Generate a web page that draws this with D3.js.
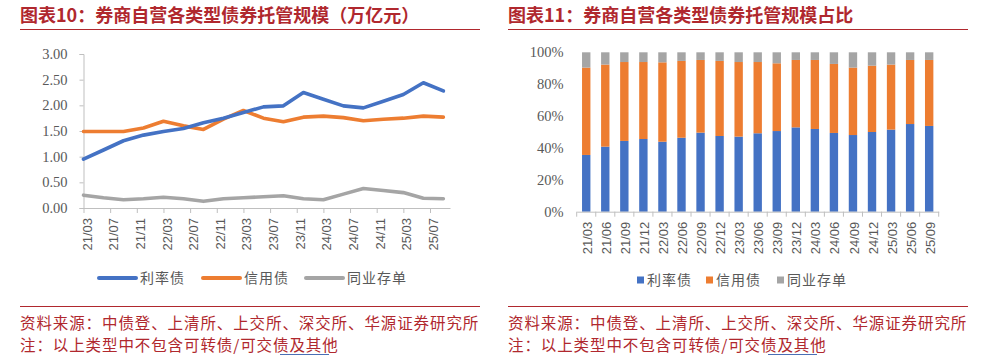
<!DOCTYPE html>
<html><head><meta charset="utf-8">
<script src="https://cdn.jsdelivr.net/npm/d3@7"></script>
<style>
html,body{margin:0;padding:0;background:#fff;}
svg{display:block;}
</style></head>
<body>
<svg id="c" width="991" height="358"></svg>
<script>
// ---------- DATA ----------
const lineDates = ["21/03","21/06","21/09","21/12","22/03","22/06","22/09","22/12","23/03","23/06","23/09","23/12","24/03","24/06","24/09","24/12","25/03","25/06","25/09"];
const rateBond   = [0.95,1.13,1.31,1.42,1.49,1.55,1.66,1.75,1.86,1.97,1.99,2.25,2.12,1.99,1.95,2.08,2.21,2.44,2.28];
const creditBond = [1.49,1.49,1.49,1.56,1.69,1.60,1.53,1.73,1.90,1.75,1.68,1.77,1.79,1.76,1.70,1.73,1.75,1.79,1.77];
const ncdBond    = [0.25,0.20,0.16,0.18,0.21,0.18,0.13,0.18,0.20,0.22,0.24,0.18,0.16,0.27,0.38,0.34,0.30,0.19,0.18];
const lineTickLabels = ["21/03","21/07","21/11","22/03","22/07","22/11","23/03","23/07","23/11","24/03","24/07","24/11","25/03","25/07"];
const lineYTicks = [0,0.5,1,1.5,2,2.5,3];

const barCats = lineDates;
const rateShare   = [0.356,0.408,0.444,0.456,0.439,0.464,0.496,0.475,0.471,0.492,0.506,0.529,0.519,0.494,0.481,0.500,0.515,0.550,0.538];
const creditShare = [0.548,0.515,0.495,0.483,0.498,0.482,0.456,0.471,0.468,0.447,0.425,0.423,0.433,0.433,0.423,0.416,0.408,0.402,0.414];
const barYTicks = [0,0.2,0.4,0.6,0.8,1.0];

const seriesNames = ["利率债","信用债","同业存单"];
const colors = ["#4472C4","#ED7D31","#A5A5A5"];

const titleL = "图表10：券商自营各类型债券托管规模（万亿元）";
const titleR = "图表11：券商自营各类型债券托管规模占比";
const src = "资料来源：中债登、上清所、上交所、深交所、华源证券研究所";
const note = "注：以上类型中不包含可转债/可交债及其他";

// ---------- HELPERS ----------
const svg = d3.select("#c");
const red = "#B0282E";
const axisCol = "#BFBFBF";
const txtCol = "#595959";
const cjk = "'Noto Sans CJK SC','Noto Sans',sans-serif";
const serif = "'Liberation Serif','DejaVu Serif',serif";
const monthIdx = s => { const [y,m] = s.split("/").map(Number); return (y-21)*12 + (m-3); };

function frame(x0, x1, title){
  svg.append("text").attr("x", x0).attr("y", 21.5).text(title)
    .attr("font-family", cjk).attr("font-weight", "bold").attr("font-size", 18).attr("fill", red);
  svg.append("line").attr("x1", x0).attr("x2", x1).attr("y1", 29.5).attr("y2", 29.5).attr("stroke", red).attr("stroke-width", 1.2);
  svg.append("line").attr("x1", x0).attr("x2", x1).attr("y1", 306.5).attr("y2", 306.5).attr("stroke", red).attr("stroke-width", 1.2);
  svg.append("text").attr("x", x0).attr("y", 329).text(src)
    .attr("font-family", cjk).attr("font-size", 15.5).attr("letter-spacing", "0.9px").attr("fill", red);
  const t2 = svg.append("text").attr("x", x0).attr("y", 351).text(note)
    .attr("font-family", cjk).attr("font-size", 15.5).attr("letter-spacing", "0.9px").attr("fill", red);
  // blue proofing underline under "债及其"
  svg.append("line").attr("x1", x0 + 260).attr("x2", x0 + 309).attr("y1", 354.5).attr("y2", 354.5)
    .attr("stroke", "#4A6FB5").attr("stroke-width", 1);
}

// ---------- LEFT: LINE CHART ----------
frame(20, 480, titleL);
{
  const x = d3.scaleLinear().domain([0, 55]).range([83.5, 450]);
  const y = d3.scaleLinear().domain([0, 3]).range([208, 54]);
  const g = svg.append("g");

  const yAx = g.append("g").attr("transform", "translate(83.5,0)")
    .call(d3.axisLeft(y).tickValues(lineYTicks).tickFormat(d3.format(".2f")).tickSize(4).tickPadding(12));
  yAx.select(".domain").attr("stroke", axisCol);
  yAx.selectAll(".tick line").attr("stroke", axisCol);
  yAx.selectAll("text").attr("font-family", serif).attr("font-size", 14.5).attr("fill", txtCol);

  const xAx = g.append("g").attr("transform", "translate(0,208)")
    .call(d3.axisBottom(x).tickValues(lineTickLabels.map(monthIdx))
      .tickFormat(i => lineTickLabels.find(s => monthIdx(s) === i)).tickSize(5).tickSizeOuter(0));
  xAx.select(".domain").attr("stroke", axisCol);
  xAx.selectAll(".tick line").attr("stroke", axisCol);
  xAx.selectAll("text").attr("font-family", "'Liberation Sans',sans-serif").attr("font-size", 13).attr("fill", txtCol)
    .attr("transform", "rotate(-90)").attr("text-anchor", "end").attr("x", -10).attr("y", 0).attr("dy", "0.35em").attr("dx", 0)
    .attr("transform", "translate(3,0) rotate(-90)");

  const series = [rateBond, creditBond, ncdBond];
  const line = d3.line().x((d, i) => x(monthIdx(lineDates[i]))).y(d => y(d));
  [2, 1, 0].forEach(k => {
    g.append("path").datum(series[k]).attr("d", line).attr("fill", "none")
      .attr("stroke", colors[k]).attr("stroke-width", 3.6).attr("stroke-linejoin", "round").attr("stroke-linecap", "round");
  });

  const lx = [99, 203, 306];
  seriesNames.forEach((n, k) => {
    svg.append("line").attr("x1", lx[k]).attr("x2", lx[k] + 37).attr("y1", 278).attr("y2", 278)
      .attr("stroke", colors[k]).attr("stroke-width", 4).attr("stroke-linecap", "round");
    svg.append("text").attr("x", lx[k] + 41).attr("y", 283).text(n)
      .attr("font-family", cjk).attr("font-size", 14).attr("fill", txtCol).attr("letter-spacing", "1px");
  });
}

// ---------- RIGHT: STACKED BAR ----------
frame(508, 968, titleR);
{
  const x = d3.scaleBand().domain(barCats).range([576.7, 938.7]).paddingInner(0.56).paddingOuter(0.28);
  const y = d3.scaleLinear().domain([0, 1]).range([211.7, 52.3]);
  const g = svg.append("g");

  const yAx = g.append("g").attr("transform", "translate(576.7,0)")
    .call(d3.axisLeft(y).tickValues(barYTicks).tickFormat(d3.format(".0%")).tickSize(0).tickPadding(13));
  yAx.select(".domain").remove();
  yAx.selectAll("text").attr("font-family", serif).attr("font-size", 14.5).attr("fill", txtCol);

  const rows = barCats.map((c, i) => ({ cat: c, a: rateShare[i], b: creditShare[i], c2: 1 - rateShare[i] - creditShare[i] }));
  const stack = d3.stack().keys(["a", "b", "c2"])(rows);
  stack.forEach((layer, k) => {
    g.selectAll(null).data(layer).enter().append("rect")
      .attr("x", d => x(d.data.cat)).attr("width", x.bandwidth())
      .attr("y", d => y(d[1])).attr("height", d => y(d[0]) - y(d[1]))
      .attr("fill", colors[k]);
  });

  const xAx = g.append("g").attr("transform", "translate(0,211.7)")
    .call(d3.axisBottom(x).tickSize(0).tickSizeOuter(0));
  xAx.select(".domain").attr("stroke", axisCol);
  // category boundary ticks
  const step = x.step();
  d3.range(barCats.length + 1).forEach(i => {
    g.append("line").attr("x1", 576.7 + i * step).attr("x2", 576.7 + i * step)
      .attr("y1", 211.7).attr("y2", 216.7).attr("stroke", axisCol);
  });
  xAx.selectAll("text").attr("font-family", "'Liberation Sans',sans-serif").attr("font-size", 13).attr("fill", txtCol)
    .attr("text-anchor", "end").attr("x", -10).attr("y", 0).attr("dy", "0.35em")
    .attr("transform", "translate(1,0) rotate(-90)");

  const lx = [637, 706, 777];
  seriesNames.forEach((n, k) => {
    svg.append("rect").attr("x", lx[k]).attr("y", 276.5).attr("width", 7).attr("height", 7).attr("fill", colors[k]);
    svg.append("text").attr("x", lx[k] + 10).attr("y", 285).text(n)
      .attr("font-family", cjk).attr("font-size", 14).attr("fill", txtCol).attr("letter-spacing", "1px");
  });
}
</script>
</body></html>
